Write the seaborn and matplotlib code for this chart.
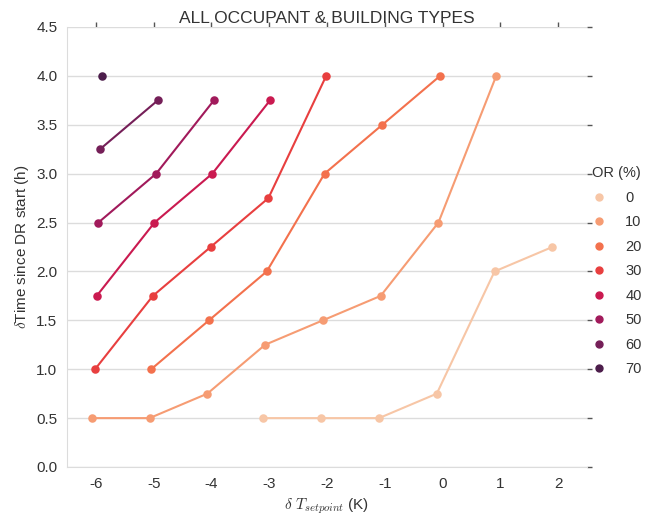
import seaborn as sns
import matplotlib.pyplot as plt
import pandas as pd
from matplotlib.lines import Line2D

sns.set_style("whitegrid")
plt.rcParams['font.family'] = ['Liberation Sans', 'DejaVu Sans']
plt.rcParams['mathtext.fontset'] = 'cm'
plt.rcParams['text.color'] = '#333333'
plt.rcParams['axes.labelcolor'] = '#333333'
plt.rcParams['xtick.color'] = '#333333'
plt.rcParams['ytick.color'] = '#333333'

# occupant ratio levels (%)
or_levels = [0, 10, 20, 30, 40, 50, 60, 70]

# setpoint change (K) and time since DR start (h) for each OR level
dT_or0 = [-3, -2, -1, 0, 1, 2]
t_or0 = [0.5, 0.5, 0.5, 0.75, 2.0, 2.25]
dT_or10 = [-6, -5, -4, -3, -2, -1, 0, 1]
t_or10 = [0.5, 0.5, 0.75, 1.25, 1.5, 1.75, 2.5, 4.0]
dT_or20 = [-5, -4, -3, -2, -1, 0]
t_or20 = [1.0, 1.5, 2.0, 3.0, 3.5, 4.0]
dT_or30 = [-6, -5, -4, -3, -2]
t_or30 = [1.0, 1.75, 2.25, 2.75, 4.0]
dT_or40 = [-6, -5, -4, -3]
t_or40 = [1.75, 2.5, 3.0, 3.75]
dT_or50 = [-6, -5, -4]
t_or50 = [2.5, 3.0, 3.75]
dT_or60 = [-6, -5]
t_or60 = [3.25, 3.75]
dT_or70 = [-6]
t_or70 = [4.0]

x_order = [-6, -5, -4, -3, -2, -1, 0, 1, 2]

series = [(dT_or0, t_or0), (dT_or10, t_or10), (dT_or20, t_or20), (dT_or30, t_or30),
          (dT_or40, t_or40), (dT_or50, t_or50), (dT_or60, t_or60), (dT_or70, t_or70)]
rows = []
for lvl, (xs, ys) in zip(or_levels, series):
    for x, y in zip(xs, ys):
        rows.append({'dT': x, 'time': y, 'OR (%)': lvl})
df = pd.DataFrame(rows)

palette = sns.color_palette("rocket_r", 9)[:len(or_levels)]

fig = plt.figure(figsize=(6.45, 5.15), dpi=100)
ax = fig.add_axes([67 / 645, 1 - 467 / 515, 520 / 645, 440 / 515])

sns.pointplot(data=df, x='dT', y='time', hue='OR (%)', order=x_order,
              hue_order=or_levels, palette=palette, dodge=True, errorbar=None,
              markersize=5, linewidth=1.5, ax=ax)

ax.set_ylim(0, 4.5)
ax.set_yticks([0.0, 0.5, 1.0, 1.5, 2.0, 2.5, 3.0, 3.5, 4.0, 4.5])
ax.set_xlim(-0.5, len(x_order) - 0.5)

ax.grid(axis='y', color='#dcdcdc', linewidth=1)
ax.grid(axis='x', visible=False)
for side in ['top', 'right']:
    ax.spines[side].set_visible(False)
for side in ['left', 'bottom']:
    ax.spines[side].set_color('#dcdcdc')
ax.tick_params(which='both', direction='out', length=3.5, width=1,
               color='#555555', top=True, right=True, labelsize=11)

ax.set_xlabel(r'$\delta\ T_{setpoint}$ (K)', fontsize=11)
ax.set_ylabel(r'$\delta$Time since DR start (h)', fontsize=11)
ax.set_title('ALL OCCUPANT & BUILDING TYPES', fontsize=12.5, pad=3)

handles, labels = ax.get_legend_handles_labels()
new_handles = [Line2D([], [], color=h.get_color(), marker='o', linestyle='',
                      markersize=5) for h in handles]
ax.legend(new_handles, labels, title='OR (%)', loc='upper left',
          bbox_to_anchor=(0.995, 0.70), borderaxespad=0.1, frameon=False,
          fontsize=10.5, title_fontsize=10.5, alignment='left',
          handlelength=1.0, handletextpad=1.3, labelspacing=0.72)

plt.savefig("out.png")
